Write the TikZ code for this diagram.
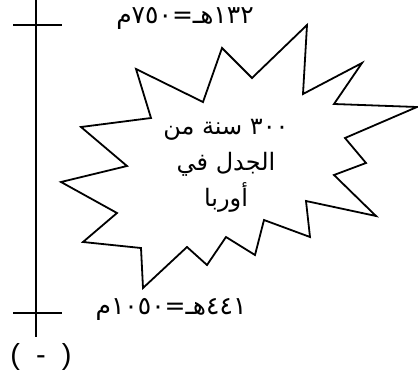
\documentclass[tikz,border=0pt]{standalone}
\usepackage{fontspec}
\usepackage{tikz}
\usetikzlibrary{positioning}
\TeXXeTstate=1
\newfontfamily\arabicfont[Script=Arabic]{DejaVu Sans}
\newfontfamily\plainfont{Liberation Sans}
\definecolor{EraInk}{HTML}{000000}
\tikzset{
  eraline/.style={draw=EraInk,line width=1.8pt},
  burstline/.style={draw=EraInk,line width=1.8pt,line join=miter,fill=white},
  datelabel/.style={font=\arabicfont\fontsize{25}{30}\selectfont,text=EraInk,inner sep=0pt},
  burstlabel/.style={font=\arabicfont\fontsize{24}{36}\selectfont,align=center,text=EraInk,inner sep=0pt}
}

\begin{document}
\begin{tikzpicture}[x=1pt,y=-1pt]
\useasboundingbox (0,0) rectangle (418,383);
% timeline
\coordinate (top) at (36,0);
\coordinate (bottom) at (36,337);
\coordinate (tickAl) at (13,25);
\coordinate (tickAr) at (62,25);
\coordinate (tickBl) at (13,313);
\coordinate (tickBr) at (62,313);
\draw[eraline] (top) -- (bottom);
\draw[eraline] (tickAl) -- (tickAr);
\draw[eraline] (tickBl) -- (tickBr);
% burst
\draw[burstline] (136,69) -- (203,102) -- (222,48) -- (252,78) -- (307,25) -- (303,94)
  -- (362,63) -- (334,104) -- (417,107) -- (345,138) -- (366,163) -- (334,175)
  -- (376,216) -- (306,201) -- (310,237) -- (264,220) -- (255,255) -- (226,237)
  -- (207,265) -- (187,247) -- (143,288) -- (141,248) -- (83,242) -- (117,213)
  -- (61,182) -- (127,166) -- (81,127) -- (151,118) -- cycle;
\node[burstlabel] (span) at (226,166)
  {\beginR ٣٠٠ سنة من\endR\\\beginR الجدل في\endR\\\beginR أوربا\endR};
% dates
\node[datelabel] (startdate) at (185,18) {\beginR ١٣٢هـ=٧٥٠م\endR};
\node[datelabel] (enddate) at (171,309) {\beginR ٤٤١هـ=١٠٥٠م\endR};
\node[font=\plainfont\fontsize{29}{32}\selectfont,inner sep=0pt] (mark) at (41,357) {(\ \ -\ \ )};
\end{tikzpicture}
\end{document}
